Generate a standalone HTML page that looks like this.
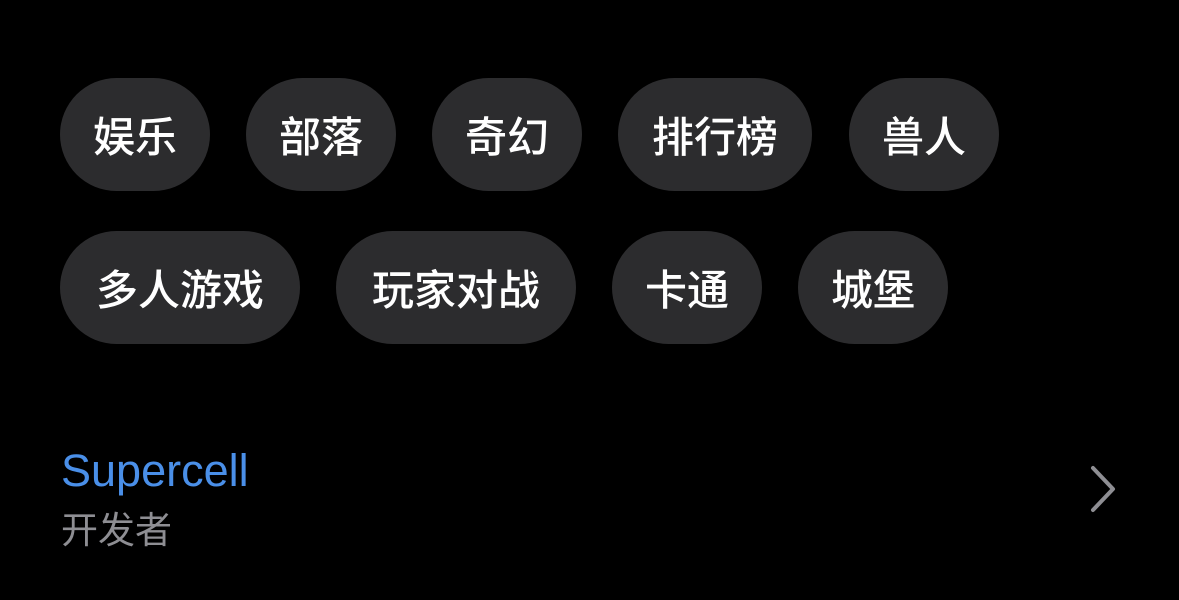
<!DOCTYPE html>
<html><head><meta charset="utf-8"><style>
body{margin:0;width:1179px;height:600px;background:#000;overflow:hidden;position:relative;font-family:"Liberation Sans","Noto Sans CJK SC",sans-serif}
.p{position:absolute;height:113px;border-radius:57px;background:#2c2c2e;color:#fff;font-size:42px;display:flex;align-items:center;justify-content:center;font-weight:500}
.a{top:78px}.b{top:231px}
</style></head><body>
<div class="p a" style="left:60px;width:150px">娱乐</div>
<div class="p a" style="left:246px;width:150px">部落</div>
<div class="p a" style="left:432px;width:150px">奇幻</div>
<div class="p a" style="left:618px;width:194px">排行榜</div>
<div class="p a" style="left:849px;width:150px">兽人</div>
<div class="p b" style="left:60px;width:240px">多人游戏</div>
<div class="p b" style="left:336px;width:240px">玩家对战</div>
<div class="p b" style="left:612px;width:150px">卡通</div>
<div class="p b" style="left:798px;width:150px">城堡</div>
<div style="position:absolute;left:61px;top:445px;font-size:45px;color:#4a8fe8">Supercell</div>
<div style="position:absolute;left:61px;top:500px;font-size:37px;color:#8e8e93">开发者</div>
<svg style="position:absolute;left:1085px;top:462px" width="40" height="54"><polyline points="8,6 28,27 8,48" fill="none" stroke="#8e8e93" stroke-width="4" stroke-linecap="round" stroke-linejoin="round"/></svg>
</body></html>
